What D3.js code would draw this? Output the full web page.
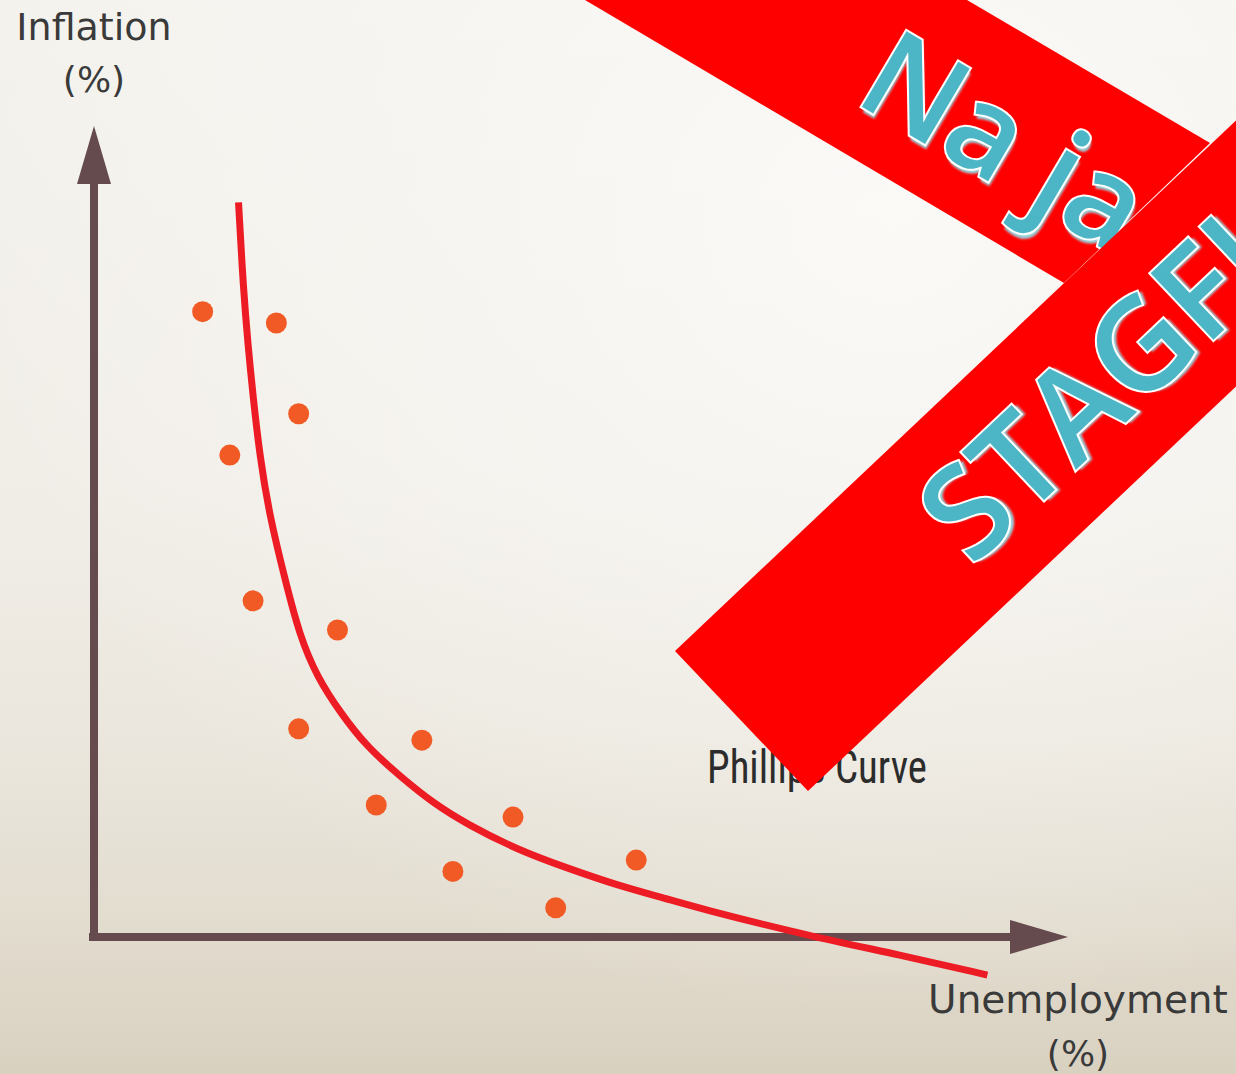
<!DOCTYPE html>
<html><head><meta charset="utf-8">
<script src="https://cdn.jsdelivr.net/npm/d3@7"></script>
<style>html,body{margin:0;padding:0;overflow:hidden;background:#f2f0ea}</style>
</head><body><svg id="chart"></svg>
<script>
// ---- data ----
const dotUnemployment = [1.12, 1.88, 2.11, 1.40, 1.64, 2.51, 2.11, 3.38, 2.91, 4.32, 3.70, 5.59, 4.76];
const dotInflation    = [7.72, 7.58, 6.46, 5.95, 4.15, 3.79, 2.57, 2.43, 1.63, 1.48, 0.81, 0.95, 0.36];
const curveUnemployment = [1.49, 1.54, 1.59, 1.64, 1.71, 1.81, 1.97, 2.12, 2.30, 2.54, 2.81, 3.16, 3.50, 3.85, 4.36, 4.88, 5.39, 5.91, 6.22, 7.38, 8.31, 9.21];
const curveInflation    = [9.07, 7.99, 7.28, 6.67, 5.93, 5.20, 4.41, 3.72, 3.21, 2.77, 2.35, 1.98, 1.65, 1.39, 1.08, 0.85, 0.64, 0.47, 0.36, 0.01, -0.22, -0.47];
const yTitleLines = ["Inflation", "(%)"];
const xTitleLines = ["Unemployment", "(%)"];
const curveLabel = "Phillips Curve";
const bannerTexts = ["Na ja", "STAGFLATION"];

const W = 1236, H = 1074;
const svg = d3.select("#chart").attr("width", W).attr("height", H);
const defs = svg.append("defs");

// background
const bg = defs.append("linearGradient").attr("id","bg").attr("x1",0).attr("y1",0).attr("x2",0).attr("y2",1);
[[0,"#f4f2ed"],[0.45,"#f1eee8"],[0.68,"#ebe7de"],[0.85,"#e3ddd0"],[1,"#d9d1c0"]].forEach(s=>bg.append("stop").attr("offset",s[0]).attr("stop-color",s[1]));
const rg = defs.append("radialGradient").attr("id","glow").attr("cx",0.72).attr("cy",0.2).attr("r",0.75);
rg.append("stop").attr("offset",0).attr("stop-color","#fcfbf9").attr("stop-opacity",0.85);
rg.append("stop").attr("offset",1).attr("stop-color","#fcfbf9").attr("stop-opacity",0);
svg.append("rect").attr("width",W).attr("height",H).attr("fill","url(#bg)");
svg.append("rect").attr("width",W).attr("height",H).attr("fill","url(#glow)");

const blur = defs.append("filter").attr("id","soft").attr("x","-10%").attr("y","-10%").attr("width","120%").attr("height","120%");
blur.append("feGaussianBlur").attr("stdDeviation",1.2);

// scales
const x = d3.scaleLinear().domain([0,10]).range([94,1064]);
const y = d3.scaleLinear().domain([0,10]).range([937,127]);

const axisColor = "#654a4e";
const g = svg.append("g");

// axes
const x0 = x(0), y0 = y(0);
g.append("line").attr("x1",x0).attr("y1",y0+4).attr("x2",x0).attr("y2",y(10)+50)
  .attr("stroke",axisColor).attr("stroke-width",8);
g.append("polygon").attr("fill",axisColor)
  .attr("points",[[x0,y(10)-1],[x0-17,y(10)+57],[x0+17,y(10)+57]].join(" "));
g.append("line").attr("x1",x0-5).attr("y1",y0).attr("x2",x(10)-50).attr("y2",y0)
  .attr("stroke",axisColor).attr("stroke-width",8);
g.append("polygon").attr("fill",axisColor)
  .attr("points",[[x(10)+4,y0],[x(10)-54,y0-17],[x(10)-54,y0+17]].join(" "));

// curve
const curveData = curveUnemployment.map((u,i)=>({u, v: curveInflation[i]}));
g.append("path").datum(curveData)
  .attr("d", d3.line().x(d=>x(d.u)).y(d=>y(d.v)).curve(d3.curveBasis))
  .attr("fill","none").attr("stroke","#ed1c24").attr("stroke-width",7);

// dots
const dotData = dotUnemployment.map((u,i)=>({u, v: dotInflation[i]}));
g.selectAll("circle.dot").data(dotData).join("circle").attr("class","dot")
  .attr("cx",d=>x(d.u)).attr("cy",d=>y(d.v)).attr("r",10.5).attr("fill","#f15a24");

// titles
const titleFont = "'DejaVu Sans', Verdana, sans-serif";
g.append("text").attr("x",x0).attr("y",40).attr("text-anchor","middle")
  .attr("font-family",titleFont).attr("font-size",38).attr("fill","#3a3a3a").text(yTitleLines[0]);
g.append("text").attr("x",x0).attr("y",92).attr("text-anchor","middle")
  .attr("font-family",titleFont).attr("font-size",36).attr("fill","#3a3a3a").text(yTitleLines[1]);
g.append("text").attr("x",1078).attr("y",1013).attr("text-anchor","middle")
  .attr("font-family",titleFont).attr("font-size",39).attr("fill","#3a3a3a").text(xTitleLines[0]);
g.append("text").attr("x",1078).attr("y",1066).attr("text-anchor","middle")
  .attr("font-family",titleFont).attr("font-size",36).attr("fill","#3a3a3a").text(xTitleLines[1]);

// curve label
g.append("text").attr("x",707).attr("y",783)
  .attr("font-family","'Liberation Sans Narrow','Roboto Condensed','Liberation Sans',sans-serif")
  .attr("font-size",47).attr("fill","#2c2c2c")
  .attr("textLength",220).attr("lengthAdjust","spacingAndGlyphs").text(curveLabel);

// ---- watermark banner (decoration, pixel geometry) ----
const band1 = [[585,0],[967,0],[1210,143],[1064,283]];
const band2 = [[675,651],[808,791],[1300,326],[1300,60]];
function bannerText(parent, txt, tx, ty, rot, size){
  const t = parent.append("g").attr("transform",`translate(${tx},${ty}) rotate(${rot})`);
  t.append("text").attr("x",3.5).attr("y",3.5).attr("font-family","'Open Sans',sans-serif")
    .attr("font-weight",600).attr("font-size",size).attr("fill","#9ad6df").attr("filter","url(#soft)").text(txt);
  t.append("text").attr("font-family","'Open Sans',sans-serif")
    .attr("font-weight",600).attr("font-size",size).attr("fill","#4db6c6")
    .attr("stroke","#ffffff").attr("stroke-width",4).attr("paint-order","stroke")
    .attr("stroke-linejoin","miter").text(txt);
}
const banner = svg.append("g");
banner.append("polygon").attr("points",band1.join(" ")).attr("fill","#ff0000");
bannerText(banner, bannerTexts[0], 852, 101, 30.5, 123);
banner.append("polygon").attr("points",band2.join(" ")).attr("fill","#ff0000");
bannerText(banner, bannerTexts[1], 972, 568, -43.4, 128);
</script>
</body></html>
